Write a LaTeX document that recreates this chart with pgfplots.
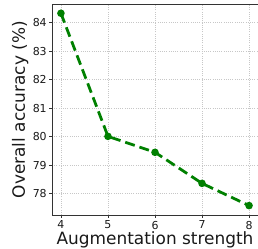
\documentclass[border=0pt]{standalone}
\usepackage{pgfplots}
\pgfplotsset{compat=1.18}
\usepackage{fontspec}
\setmainfont{DejaVu Sans}
\begin{document}
\begin{tikzpicture}[x=1bp,y=1bp]
\useasboundingbox (0,0) rectangle (258,249);
\begin{axis}[
  at={(52bp,34bp)}, anchor=south west,
  scale only axis, width=206bp, height=210.7bp,
  xmin=3.81, xmax=8.19, ymin=77.25, ymax=84.645,
  xtick={4,5,6,7,8}, ytick={78,79,80,81,82,83,84},
  grid=major,
  major grid style={dash pattern=on 1bp off 1.2bp, line width=0.5bp, color=black!22},
  axis line style={line width=0.9pt, color=black!80},
  tick style={color=black!80, line width=0.7pt},
  tick align=outside, major tick length=2.6bp,
  xtick pos=bottom, ytick pos=left,
  ticklabel style={font=\fontsize{11}{13}\selectfont, color=black!90},
  yticklabel style={inner sep=0pt, xshift=-2.5bp},
  xticklabel style={inner sep=0pt, yshift=-3.2bp},
  /pgf/number format/assume math mode=true,
  xlabel={Augmentation strength},
  ylabel={Overall accuracy (\%)},
  label style={font=\fontsize{17}{20}\selectfont, color=black!90, inner sep=0pt},
  xlabel style={at={(axis description cs:0.5,0)}, anchor=base, yshift=-30bp},
  ylabel style={at={(axis description cs:0,0.5)}, anchor=base, yshift=27bp},
  clip=false,
]
\addplot[color={rgb,255:red,0;green,128;blue,0}, line width=2.8pt,
  dash pattern=on 10bp off 5bp, mark=*, mark size=2.3bp,
  mark options={solid}]
  coordinates {(4,84.33) (5,80.01) (6,79.45) (7,78.36) (8,77.58)};
\end{axis}
\end{tikzpicture}
\end{document}
